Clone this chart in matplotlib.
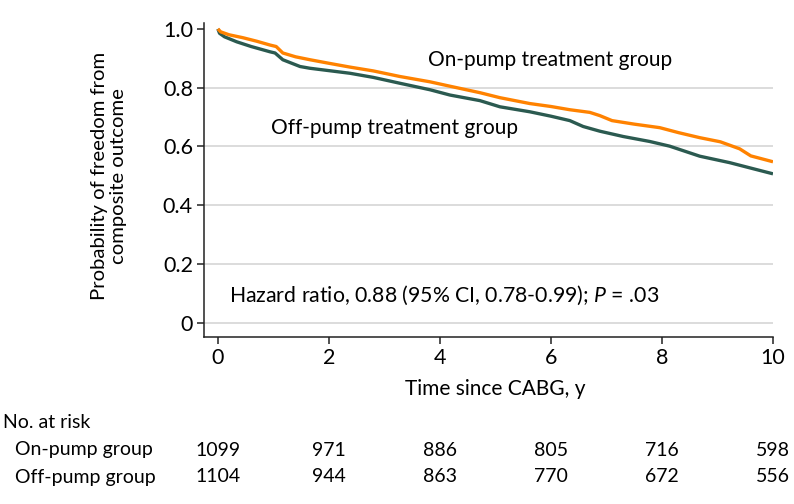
import matplotlib
matplotlib.use("Agg")
import matplotlib.pyplot as plt

plt.rcParams['font.family'] = ['Lato', 'DejaVu Sans']
plt.rcParams['mathtext.fontset'] = 'custom'
plt.rcParams['mathtext.rm'] = 'Lato'
plt.rcParams['mathtext.it'] = 'Lato:italic'

# Kaplan-Meier curves
on_time = [0, 0.05, 0.2, 0.45, 0.7, 0.94, 1.05, 1.17, 1.4, 1.66, 2.0, 2.38, 2.8,
           3.28, 3.82, 4.18, 4.72, 5.08, 5.62, 6.0, 6.34, 6.7, 6.88, 7.1, 7.5, 7.96,
           8.3, 8.68, 9.05, 9.4, 9.6, 10.0]
on_surv = [1.0, 0.99, 0.98, 0.97, 0.958, 0.945, 0.94, 0.918, 0.905, 0.895, 0.883,
           0.87, 0.857, 0.838, 0.82, 0.805, 0.783, 0.766, 0.746, 0.736, 0.725, 0.716,
           0.705, 0.688, 0.676, 0.664, 0.647, 0.630, 0.616, 0.592, 0.568, 0.548]
off_time = [0, 0.03, 0.12, 0.34, 0.6, 0.94, 1.03, 1.17, 1.48, 1.66, 2.0, 2.38, 2.8,
            3.28, 3.82, 4.18, 4.72, 5.08, 5.62, 6.0, 6.34, 6.58, 6.88, 7.3, 7.78,
            8.14, 8.68, 9.22, 9.65, 10.0]
off_surv = [1.0, 0.985, 0.973, 0.956, 0.94, 0.922, 0.918, 0.895, 0.872, 0.866, 0.858,
            0.849, 0.835, 0.815, 0.793, 0.775, 0.756, 0.735, 0.718, 0.703, 0.688, 0.668,
            0.652, 0.634, 0.617, 0.601, 0.567, 0.545, 0.524, 0.507]

risk_times = [0, 2, 4, 6, 8, 10]
risk_on = [1099, 971, 886, 805, 716, 598]
risk_off = [1104, 944, 863, 770, 672, 556]
group_labels = ["On-pump group", "Off-pump group"]

yticks = [0, 0.2, 0.4, 0.6, 0.8, 1.0]
ytick_labels = ["0", "0.2", "0.4", "0.6", "0.8", "1.0"]
xticks = [0, 2, 4, 6, 8, 10]

c_on = "#FF8200"
c_off = "#2B5A50"
FS = 15

fig = plt.figure(figsize=(7.94, 5.04), dpi=100)
ax = fig.add_axes([204/794, 1-337/504, (773-204)/794, (337-23)/504])
ax.set_xlim(-0.25, 10.0)
ax.set_ylim(-0.048, 1.02)

for g in [0, 0.2, 0.4, 0.6, 0.8]:
    ax.axhline(g, color="#d6d6d6", lw=1.2, zorder=0)

ax.plot(off_time, off_surv, color=c_off, lw=2.4, zorder=3, solid_capstyle='butt')
ax.plot(on_time, on_surv, color=c_on, lw=2.4, zorder=3, solid_capstyle='butt')

for s in ['top', 'right']:
    ax.spines[s].set_visible(False)
for s in ['left', 'bottom']:
    ax.spines[s].set_linewidth(1.1)
    ax.spines[s].set_color("#222222")

ax.set_yticks(yticks)
ax.set_yticklabels(ytick_labels)
ax.set_xticks(xticks)
ax.tick_params(axis='both', labelsize=15.5, length=5, width=1.1, color="#222222", pad=3)

ax.text(3.78, 0.895, "On-pump treatment group", fontsize=FS, va='center', ha='left')
ax.text(0.95, 0.663, "Off-pump treatment group", fontsize=FS, va='center', ha='left')
ax.text(0.2, 0.095, r"Hazard ratio, 0.88 (95% CI, 0.78-0.99); $\mathit{P}$ = .03",
        fontsize=15.3, va='center', ha='left')

# x label
ax.text(5, -0.224, "Time since CABG, y", fontsize=FS, ha='center', va='center',
        clip_on=False)
# y label
ax.text(-1.96, 0.5, "Probability of freedom from\ncomposite outcome", fontsize=14.6,
        rotation=90, ha='center', va='center', linespacing=1.12, clip_on=False)

# risk table
RS = 14
fig.text(3/794, 1-422/504, "No. at risk", fontsize=RS, ha='left', va='center')
for row, (lab, vals) in enumerate(zip(group_labels, [risk_on, risk_off])):
    ypix = [450, 477][row]
    fig.text(15/794, 1-ypix/504, lab, fontsize=RS, ha='left', va='center')
    for t, v in zip(risk_times, vals):
        xd = fig.transFigure.inverted().transform(ax.transData.transform((t, 0)))[0]
        fig.text(xd, 1-ypix/504, str(v), fontsize=RS, ha='center', va='center')

fig.savefig("out.png", dpi=100)
